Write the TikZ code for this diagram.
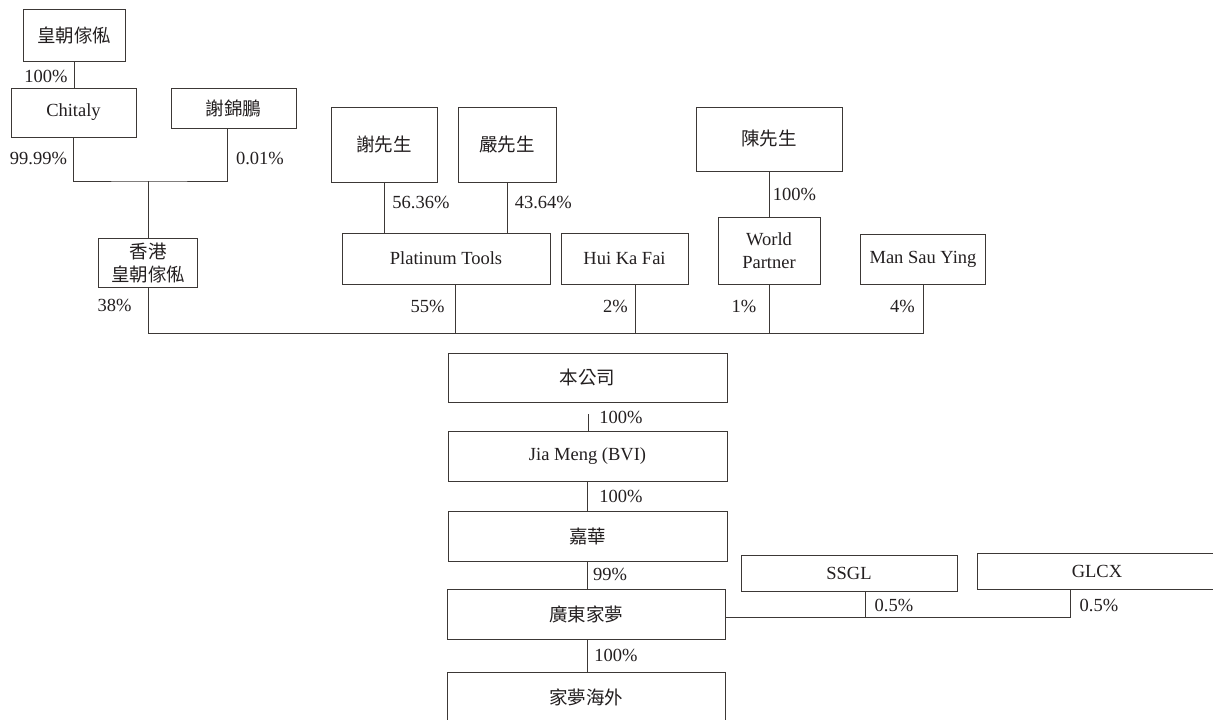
\documentclass[tikz,border=0pt]{standalone}
\usepackage{fontspec}
\setmainfont{Liberation Serif}
\newfontfamily\cjk{Noto Sans CJK TC}
\definecolor{lineclr}{HTML}{3C3836}
\definecolor{txtclr}{HTML}{231F20}
\begin{document}
\begin{tikzpicture}[x=1pt,y=-1pt,
  every node/.style={text=txtclr,font=\fontsize{18.5}{23}\selectfont},
  entbox/.style={draw=lineclr,line width=0.9pt,inner sep=0pt,align=center,minimum width=#1},
  pct/.style={inner sep=0pt},
  conn/.style={draw=lineclr,line width=0.9pt}]
\useasboundingbox (0,0) rectangle (1213,720);
\fill[white] (0,0) rectangle (1213,720);
% boxes
\node[entbox=102pt,minimum height=52pt] (A) at (74,35) {\cjk 皇朝傢俬};
\node[entbox=125pt,minimum height=49pt] (Chitaly) at (73.5,112.5) {Chitaly};
\node[entbox=125pt,minimum height=40pt] (XJP) at (233.5,108) {\cjk 謝錦鵬};
\node[entbox=99pt,minimum height=49pt] (HK) at (148,262.5) {\cjk 香港\\\cjk 皇朝傢俬};
\node[entbox=106pt,minimum height=75pt] (XS) at (384,144.5) {\cjk 謝先生};
\node[entbox=98pt,minimum height=75pt] (YS) at (507,144.5) {\cjk 嚴先生};
\node[entbox=208pt,minimum height=51pt] (PT) at (446,258.5) {Platinum Tools};
\node[entbox=127pt,minimum height=51pt] (HKF) at (624.5,258.5) {Hui Ka Fai};
\node[entbox=146pt,minimum height=64pt] (CS) at (769,139) {\cjk 陳先生};
\node[entbox=102pt,minimum height=67pt] (WP) at (769,250.5) {World\\Partner};
\node[entbox=125pt,minimum height=50pt] (MSY) at (923,259) {Man Sau Ying};
\node[entbox=279pt,minimum height=49pt] (Co) at (587.5,377.5) {\cjk 本公司};
\node[entbox=279pt,minimum height=50pt] (JM) at (587.5,456) {Jia Meng (BVI)};
\node[entbox=279pt,minimum height=50pt] (JH) at (587.5,536) {\cjk 嘉華};
\node[entbox=278pt,minimum height=50pt] (GD) at (586,614) {\cjk 廣東家夢};
\node[entbox=278pt,minimum height=50pt] (JMO) at (586,697) {\cjk 家夢海外};
\node[entbox=216pt,minimum height=36pt] (SSGL) at (849,573) {SSGL};
\node[entbox=240pt,minimum height=36pt] (GLCX) at (1097,571) {GLCX};
% junctions
\coordinate (j1) at (148,181);
\coordinate (busL) at (148,333);
\coordinate (busR) at (923,333);
\coordinate (c1) at (588,414);
% connectors
\draw[conn] (A.south) -- (A.south |- Chitaly.north);
\draw[conn] (Chitaly.south) |- (j1) -| ([xshift=-6.5pt]XJP.south);
\draw[conn] (j1) -- (HK.north);
\draw[conn] (HK.south) -- (busL) -- (busR) -- (MSY.south);
\draw[conn] ([xshift=9pt]PT.south) -- ([xshift=9pt]PT.south |- busL);
\draw[conn] ([xshift=10.5pt]HKF.south) -- ([xshift=10.5pt]HKF.south |- busL);
\draw[conn] (WP.south) -- (WP.south |- busL);
\draw[conn] (XS.south) -- (XS.south |- PT.north);
\draw[conn] (YS.south) -- (YS.south |- PT.north);
\draw[conn] (CS.south) -- (WP.north);
\draw[conn] (c1) -- (c1 |- JM.north);
\draw[conn] (JM.south) -- (JH.north);
\draw[conn] (JH.south) -- (JH.south |- GD.north);
\draw[conn] (JH.south |- GD.south) -- (JH.south |- JMO.north);
\draw[conn] ([yshift=-3pt]GD.east) -| ([xshift=-27pt]GLCX.south);
\draw[conn] ([xshift=16pt]SSGL.south) -- ([xshift=16pt,yshift=-3pt]SSGL.south |- GD.east);
% labels
\node[pct] (l1) at (46,76) {100\%};
\node[pct] (l2) at (38.5,158) {99.99\%};
\node[pct] (l3) at (260,158) {0.01\%};
\node[pct] (l4) at (114.5,305) {38\%};
\node[pct] (l5) at (421,202) {56.36\%};
\node[pct] (l6) at (543.3,202) {43.64\%};
\node[pct] (l7) at (427.5,306) {55\%};
\node[pct] (l8) at (615.5,306) {2\%};
\node[pct] (l9) at (794.5,194) {100\%};
\node[pct] (l10) at (744,306.5) {1\%};
\node[pct] (l11) at (902.5,306.5) {4\%};
\node[pct] (l12) at (621,417.5) {100\%};
\node[pct] (l13) at (621,496.5) {100\%};
\node[pct] (l14) at (610,574) {99\%};
\node[pct] (l15) at (616,655) {100\%};
\node[pct] (l16) at (894,605) {0.5\%};
\node[pct] (l17) at (1099,605) {0.5\%};
\end{tikzpicture}
\end{document}
